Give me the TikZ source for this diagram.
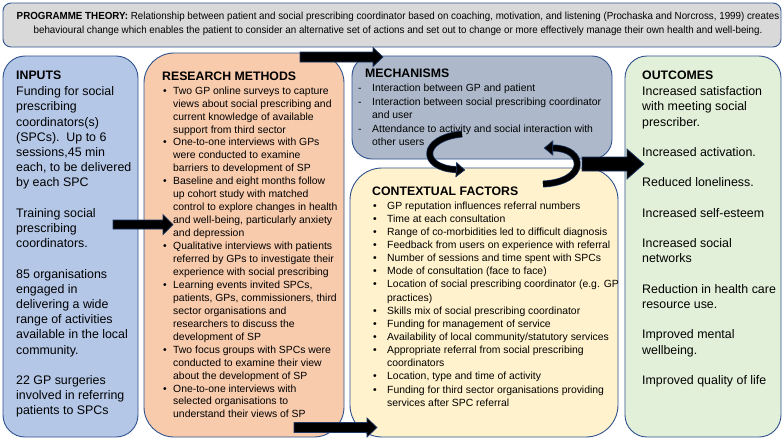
\documentclass[tikz,border=0pt]{standalone}
\usepackage{fontspec}
\setmainfont{Liberation Sans}
\newfontfamily\topfont[FakeStretch=0.95]{Liberation Sans}
\usetikzlibrary{calc,arrows.meta}
\definecolor{boxedge}{RGB}{47,82,143}
\definecolor{arrowedge}{RGB}{31,56,100}
\definecolor{topfill}{RGB}{217,217,217}
\definecolor{inputfill}{RGB}{180,199,231}
\definecolor{researchfill}{RGB}{248,203,173}
\definecolor{mechfill}{RGB}{173,185,202}
\definecolor{ctxfill}{RGB}{255,242,204}
\definecolor{outfill}{RGB}{226,240,217}
\newcommand{\blockarr}[5]{%
  \filldraw[blockfill] ($(#1)+(0,-#3)$) -- ($(#2)+(-#5,-#3)$) -- ($(#2)+(-#5,-#4)$) -- (#2) -- ($(#2)+(-#5,#4)$) -- ($(#2)+(-#5,#3)$) -- ($(#1)+(0,#3)$) -- cycle;}
\newcommand{\bul}[1]{\makebox[#1][l]{\textbullet}}
\begin{document}
\begin{tikzpicture}[x=1pt,y=-1pt,
  panel/.style={draw=boxedge, line width=0.9pt, inner sep=0pt, outer sep=0pt, anchor=north west},
  bigtext/.style={inner sep=0pt, anchor=north west, align=left, font={\fontsize{12.4}{15.2}\selectfont}},
  smalltext/.style={inner sep=0pt, anchor=north west, align=left, font={\fontsize{10.4}{12.95}\selectfont}},
  heading/.style={inner sep=0pt, anchor=base west, font={\bfseries\fontsize{12.3}{14}\selectfont}},
  blockfill/.style={fill=black, draw=arrowedge, line width=0.7pt, line join=miter},
  curvearrow/.style={draw=black, line width=5.5pt, -{Triangle[length=9pt,width=15pt,line width=0.6pt,color=arrowedge,fill=black]}, preaction={draw=arrowedge, line width=6.9pt}}
]
\useasboundingbox (0,0) rectangle (784,440);
\fill[white] (0,0) rectangle (784,440);

% panels
\node[panel, fill=topfill, rounded corners=8pt, minimum width=778, minimum height=44] (theory) at (3,3) {};
\node[panel, fill=inputfill, rounded corners=22pt, minimum width=135, minimum height=381] (inputs) at (3,56) {};
\node[panel, fill=researchfill, rounded corners=30pt, minimum width=200, minimum height=384] (research) at (144,53) {};
\node[panel, fill=mechfill, rounded corners=20pt, minimum width=260, minimum height=103] (mech) at (352,56) {};
\node[panel, fill=ctxfill, rounded corners=32pt, minimum width=268, minimum height=269] (ctx) at (350,168) {};
\node[panel, fill=outfill, rounded corners=22pt, minimum width=156, minimum height=381] (outcomes) at (625,56) {};

% programme theory
\node[inner sep=0pt, anchor=north, align=center, font={\topfont\fontsize{10.3}{14}\selectfont}] (theorytext) at (398,9.6)
 {\strut\textbf{PROGRAMME THEORY:} Relationship between patient and social prescribing coordinator based on coaching, motivation, and listening (Prochaska and Norcross, 1999) creates\\
  behavioural change which enables the patient to consider an alternative set of actions and set out to change or more effectively manage their own health and well-being.};

% inputs
\node[heading] (inputshead) at (16,79.5) {INPUTS};
\node[bigtext] (inputsbody) at (16,84.9) {\strut Funding for social\\
prescribing\\
coordinators(s)\\
(SPCs).\ \ Up to 6\\
sessions,45 min\\
each, to be delivered\\
by each SPC\\[15.2pt]
Training social\\
prescribing\\
coordinators.\\[15.2pt]
85 organisations\\
engaged in\\
delivering a wide\\
range of activities\\
available in the local\\
community.\\[15.2pt]
22 GP surgeries\\
involved in referring\\
patients to SPCs};

% research methods
\node[heading] (researchhead) at (162,80) {RESEARCH METHODS};
\node[smalltext] (researchbody) at (163,84.9) {\strut\bul{10pt}Two GP online surveys to capture\\
\hspace*{10pt}views about social prescribing and\\
\hspace*{10pt}current knowledge of available\\
\hspace*{10pt}support from third sector\\
\bul{10pt}One-to-one interviews with GPs\\
\hspace*{10pt}were conducted to examine\\
\hspace*{10pt}barriers to development of SP\\
\bul{10pt}Baseline and eight months follow\\
\hspace*{10pt}up cohort study with matched\\
\hspace*{10pt}control to explore changes in health\\
\hspace*{10pt}and well-being, particularly anxiety\\
\hspace*{10pt}and depression\\
\bul{10pt}Qualitative interviews with patients\\
\hspace*{10pt}referred by GPs to investigate their\\
\hspace*{10pt}experience with social prescribing\\
\bul{10pt}Learning events invited SPCs,\\
\hspace*{10pt}patients, GPs, commissioners, third\\
\hspace*{10pt}sector organisations and\\
\hspace*{10pt}researchers to discuss the\\
\hspace*{10pt}development of SP\\
\bul{10pt}Two focus groups with SPCs were\\
\hspace*{10pt}conducted to examine their view\\
\hspace*{10pt}about the development of SP\\
\bul{10pt}One-to-one interviews with\\
\hspace*{10pt}selected organisations to\\
\hspace*{10pt}understand their views of SP};

% mechanisms
\node[heading] (mechhead) at (365,77.4) {MECHANISMS};
\node[smalltext, font={\fontsize{10.4}{13}\selectfont}] (mechbody) at (358,81.9) {\strut\makebox[14pt][l]{-}Interaction between GP and patient\\[1pt]
\makebox[14pt][l]{-}Interaction between social prescribing coordinator\\
\hspace*{14pt}and user\\[1pt]
\makebox[14pt][l]{-}Attendance to activity and social interaction with\\
\hspace*{14pt}other users};

% contextual factors
\node[heading] (ctxhead) at (372,195.5) {CONTEXTUAL FACTORS};
\node[smalltext, font={\fontsize{10.4}{13.13}\selectfont}] (ctxbody) at (373,199.8) {\strut\bul{14pt}GP reputation influences referral numbers\\
\bul{14pt}Time at each consultation\\
\bul{14pt}Range of co-morbidities led to difficult diagnosis\\
\bul{14pt}Feedback from users on experience with referral\\
\bul{14pt}Number of sessions and time spent with SPCs\\
\bul{14pt}Mode of consultation (face to face)\\
\bul{14pt}Location of social prescribing coordinator (e.g. GP\\
\hspace*{14pt}practices)\\
\bul{14pt}Skills mix of social prescribing coordinator\\
\bul{14pt}Funding for management of service\\
\bul{14pt}Availability of local community/statutory services\\
\bul{14pt}Appropriate referral from social prescribing\\
\hspace*{14pt}coordinators\\
\bul{14pt}Location, type and time of activity\\
\bul{14pt}Funding for third sector organisations providing\\
\hspace*{14pt}services after SPC referral};

% outcomes
\node[heading] (outhead) at (642,79.5) {OUTCOMES};
\node[bigtext] (outbody) at (642,84.9) {\strut Increased satisfaction\\
with meeting social\\
prescriber.\\[15.2pt]
Increased activation.\\[15.2pt]
Reduced loneliness.\\[15.2pt]
Increased self-esteem\\[15.2pt]
Increased social\\
networks\\[15.2pt]
Reduction in health care\\
resource use.\\[15.2pt]
Improved mental\\
wellbeing.\\[15.2pt]
Improved quality of life};

% block arrows
\coordinate (a1s) at (300,57);   \coordinate (a1e) at (383,57);
\coordinate (a2s) at (113,224.5); \coordinate (a2e) at (173,224.5);
\coordinate (a3s) at (294,427.5); \coordinate (a3e) at (377,427.5);
\coordinate (a4s) at (582,164);  \coordinate (a4e) at (644,164);
\blockarr{a1s}{a1e}{5}{9.5}{10}
\blockarr{a2s}{a2e}{4.5}{10}{10}
\blockarr{a3s}{a3e}{5}{9.5}{10}
\blockarr{a4s}{a4e}{7}{15}{17}

% curved arrows
\coordinate (c1s) at (462,134); \coordinate (c1e) at (465,170);
\draw[curvearrow] (c1s) .. controls (420,138) and (420,168) .. (c1e);
\coordinate (c2s) at (543,184); \coordinate (c2e) at (544,148);
\draw[curvearrow] (c2s) .. controls (588,182) and (586,148) .. (c2e);
\end{tikzpicture}
\end{document}
